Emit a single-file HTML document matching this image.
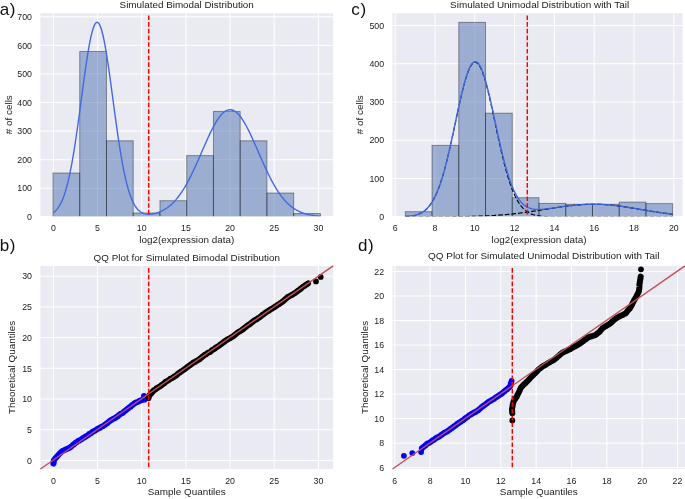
<!DOCTYPE html>
<html><head><meta charset="utf-8"><title>Figure</title>
<style>
html,body{margin:0;padding:0;background:#fff;}
body{width:685px;height:499px;overflow:hidden;}
svg{display:block;will-change:transform;}
text{font-family:"Liberation Sans",sans-serif;fill:#222;}
.tk{font-size:8.8px;}
.lb{font-size:9.9px;}
.pl{font-size:17px;fill:#111;letter-spacing:0.7px;}
</style></head><body>
<svg width="685" height="499" viewBox="0 0 685 499">
<rect width="685" height="499" fill="#fff"/>
<rect x="40.4" y="13.2" width="292.75" height="203.05" fill="#eaeaf2"/>
<clipPath id="ca"><rect x="40.4" y="13.2" width="292.75" height="203.05"/></clipPath>
<path d="M53.4 13.2V216.25M97.56 13.2V216.25M141.73 13.2V216.25M185.9 13.2V216.25M230.06 13.2V216.25M274.23 13.2V216.25M318.39 13.2V216.25M40.4 216.85H333.15M40.4 188.27H333.15M40.4 159.69H333.15M40.4 131.11H333.15M40.4 102.53H333.15M40.4 73.95H333.15M40.4 45.37H333.15M40.4 16.79H333.15" stroke="#fff" stroke-width="1" fill="none"/>
<text x="53.4" y="231.1" class="tk" text-anchor="middle">0</text>
<text x="97.56" y="231.1" class="tk" text-anchor="middle">5</text>
<text x="141.73" y="231.1" class="tk" text-anchor="middle">10</text>
<text x="185.9" y="231.1" class="tk" text-anchor="middle">15</text>
<text x="230.06" y="231.1" class="tk" text-anchor="middle">20</text>
<text x="274.23" y="231.1" class="tk" text-anchor="middle">25</text>
<text x="318.39" y="231.1" class="tk" text-anchor="middle">30</text>
<text x="32" y="220.05" class="tk" text-anchor="end">0</text>
<text x="32" y="191.47" class="tk" text-anchor="end">100</text>
<text x="32" y="162.89" class="tk" text-anchor="end">200</text>
<text x="32" y="134.31" class="tk" text-anchor="end">300</text>
<text x="32" y="105.73" class="tk" text-anchor="end">400</text>
<text x="32" y="77.15" class="tk" text-anchor="end">500</text>
<text x="32" y="48.57" class="tk" text-anchor="end">600</text>
<text x="32" y="19.99" class="tk" text-anchor="end">700</text>
<text x="186.7" y="8" class="lb" style="font-size:9.87px" text-anchor="middle">Simulated Bimodal Distribution</text>
<text x="186.77" y="243.2" class="lb" text-anchor="middle">log2(expression data)</text>
<text transform="translate(11.7 114.72) rotate(-90)" class="lb" text-anchor="middle"># of cells</text>
<g clip-path="url(#ca)" fill="#4c72b0" fill-opacity="0.5" stroke="#000" stroke-opacity="0.38" stroke-width="1">
<rect x="53" y="173.01" width="26.74" height="43.84"/>
<rect x="79.74" y="51.49" width="26.74" height="165.36"/>
<rect x="106.48" y="140.8" width="26.74" height="76.05"/>
<rect x="133.22" y="212.99" width="26.74" height="3.86"/>
<rect x="159.96" y="200.7" width="26.74" height="16.15"/>
<rect x="186.7" y="155.6" width="26.74" height="61.25"/>
<rect x="213.44" y="111.42" width="26.74" height="105.43"/>
<rect x="240.18" y="140.8" width="26.74" height="76.05"/>
<rect x="266.92" y="193.01" width="26.74" height="23.84"/>
<rect x="293.66" y="213.51" width="26.74" height="3.34"/>
</g>
<polyline clip-path="url(#ca)" points="53.4,212.78 54.73,211.71 56.07,210.41 57.41,208.84 58.74,206.96 60.07,204.73 61.41,202.1 62.74,199.02 64.08,195.47 65.41,191.38 66.75,186.73 68.08,181.49 69.42,175.64 70.75,169.16 72.09,162.06 73.42,154.35 74.76,146.07 76.09,137.27 77.43,128.02 78.77,118.41 80.1,108.54 81.44,98.54 82.77,88.55 84.11,78.7 85.44,69.18 86.78,60.12 88.11,51.71 89.44,44.1 90.78,37.43 92.12,31.85 93.45,27.46 94.78,24.36 96.12,22.61 97.45,22.26 98.79,23.31 100.12,25.73 101.46,29.48 102.79,34.48 104.13,40.61 105.47,47.77 106.8,55.79 108.14,64.54 109.47,73.85 110.81,83.55 112.14,93.49 113.47,103.5 114.81,113.45 116.14,123.2 117.48,132.63 118.81,141.66 120.15,150.2 121.48,158.19 122.82,165.58 124.16,172.36 125.49,178.51 126.82,184.03 128.16,188.95 129.5,193.29 130.83,197.07 132.17,200.34 133.5,203.14 134.83,205.52 136.17,207.51 137.5,209.16 138.84,210.5 140.17,211.58 141.51,212.44 142.84,213.09 144.18,213.58 145.52,213.92 146.85,214.13 148.19,214.24 149.52,214.25 150.85,214.17 152.19,214.02 153.53,213.8 154.86,213.51 156.2,213.16 157.53,212.74 158.86,212.27 160.2,211.73 161.53,211.13 162.87,210.46 164.21,209.73 165.54,208.92 166.88,208.03 168.21,207.06 169.54,206.01 170.88,204.87 172.22,203.65 173.55,202.32 174.89,200.9 176.22,199.38 177.55,197.76 178.89,196.03 180.22,194.2 181.56,192.26 182.9,190.21 184.23,188.06 185.57,185.8 186.9,183.45 188.23,180.99 189.57,178.43 190.91,175.79 192.24,173.06 193.58,170.26 194.91,167.39 196.25,164.45 197.58,161.47 198.91,158.44 200.25,155.39 201.59,152.33 202.92,149.26 204.25,146.2 205.59,143.17 206.93,140.18 208.26,137.25 209.59,134.39 210.93,131.61 212.27,128.94 213.6,126.39 214.94,123.97 216.27,121.7 217.61,119.59 218.94,117.66 220.28,115.91 221.61,114.36 222.95,113.02 224.28,111.89 225.62,110.99 226.95,110.32 228.28,109.89 229.62,109.69 230.96,109.73 232.29,110.01 233.63,110.52 234.96,111.27 236.3,112.25 237.63,113.45 238.97,114.86 240.3,116.48 241.63,118.3 242.97,120.29 244.31,122.46 245.64,124.78 246.97,127.25 248.31,129.84 249.64,132.55 250.98,135.35 252.31,138.24 253.65,141.19 254.99,144.2 256.32,147.24 257.66,150.3 258.99,153.37 260.32,156.44 261.66,159.48 263,162.49 264.33,165.46 265.67,168.37 267,171.22 268.33,174 269.67,176.7 271,179.32 272.34,181.84 273.68,184.26 275.01,186.59 276.35,188.81 277.68,190.92 279.01,192.93 280.35,194.84 281.69,196.63 283.02,198.32 284.35,199.91 285.69,201.4 287.02,202.79 288.36,204.08 289.69,205.28 291.03,206.38 292.37,207.41 293.7,208.35 295.04,209.22 296.37,210.01 297.7,210.73 299.04,211.39 300.38,211.99 301.71,212.54 303.05,213.03 304.38,213.47 305.71,213.87 307.05,214.23 308.38,214.54 309.72,214.83 311.06,215.08 312.39,215.31 313.72,215.51 315.06,215.68 316.39,215.84 317.73,215.98 319.06,216.1 320.4,216.2" fill="none" stroke="#4169e1" stroke-width="1.4" stroke-linejoin="round"/>
<path d="M148.7 13.2V216.25" stroke="#f00" stroke-width="1.45" stroke-dasharray="4.64 2.065" stroke-dashoffset="4.5" fill="none"/>
<rect x="392.5" y="13.2" width="290.1" height="203.05" fill="#eaeaf2"/>
<clipPath id="cc"><rect x="392.5" y="13.2" width="290.1" height="203.05"/></clipPath>
<path d="M395.2 13.2V216.25M435 13.2V216.25M474.8 13.2V216.25M514.6 13.2V216.25M554.4 13.2V216.25M594.2 13.2V216.25M634 13.2V216.25M673.8 13.2V216.25M392.5 216.85H682.6M392.5 178.57H682.6M392.5 140.29H682.6M392.5 102.01H682.6M392.5 63.73H682.6M392.5 25.45H682.6" stroke="#fff" stroke-width="1" fill="none"/>
<text x="395.2" y="231.1" class="tk" text-anchor="middle">6</text>
<text x="435" y="231.1" class="tk" text-anchor="middle">8</text>
<text x="474.8" y="231.1" class="tk" text-anchor="middle">10</text>
<text x="514.6" y="231.1" class="tk" text-anchor="middle">12</text>
<text x="554.4" y="231.1" class="tk" text-anchor="middle">14</text>
<text x="594.2" y="231.1" class="tk" text-anchor="middle">16</text>
<text x="634" y="231.1" class="tk" text-anchor="middle">18</text>
<text x="673.8" y="231.1" class="tk" text-anchor="middle">20</text>
<text x="384.1" y="220.05" class="tk" text-anchor="end">0</text>
<text x="384.1" y="181.77" class="tk" text-anchor="end">100</text>
<text x="384.1" y="143.49" class="tk" text-anchor="end">200</text>
<text x="384.1" y="105.21" class="tk" text-anchor="end">300</text>
<text x="384.1" y="66.93" class="tk" text-anchor="end">400</text>
<text x="384.1" y="28.65" class="tk" text-anchor="end">500</text>
<text x="539.6" y="8" class="lb" style="font-size:9.94px" text-anchor="middle">Simulated Unimodal Distribution with Tail</text>
<text x="539.1" y="243.2" class="lb" text-anchor="middle">log2(expression data)</text>
<text transform="translate(363 114.72) rotate(-90)" class="lb" text-anchor="middle"># of cells</text>
<g clip-path="url(#cc)" fill="#4c72b0" fill-opacity="0.5" stroke="#000" stroke-opacity="0.38" stroke-width="1">
<rect x="405.3" y="211.68" width="26.74" height="5.17"/>
<rect x="432.04" y="145.38" width="26.74" height="71.47"/>
<rect x="458.78" y="22.39" width="26.74" height="194.46"/>
<rect x="485.52" y="113.19" width="26.74" height="103.66"/>
<rect x="512.26" y="197.71" width="26.74" height="19.14"/>
<rect x="539" y="203.41" width="26.74" height="13.44"/>
<rect x="565.74" y="204.29" width="26.74" height="12.56"/>
<rect x="592.48" y="204.29" width="26.74" height="12.56"/>
<rect x="619.22" y="202.11" width="26.74" height="14.74"/>
<rect x="645.96" y="203.61" width="26.74" height="13.24"/>
</g>
<polyline clip-path="url(#cc)" points="405.3,216.53 406.64,216.44 407.97,216.34 409.31,216.21 410.65,216.05 411.99,215.85 413.32,215.62 414.66,215.34 416,215 417.33,214.59 418.67,214.11 420.01,213.55 421.34,212.88 422.68,212.1 424.02,211.19 425.36,210.13 426.69,208.92 428.03,207.53 429.37,205.95 430.7,204.15 432.04,202.13 433.38,199.86 434.71,197.32 436.05,194.51 437.39,191.41 438.73,188.02 440.06,184.31 441.4,180.29 442.74,175.97 444.07,171.34 445.41,166.41 446.75,161.2 448.08,155.72 449.42,150.01 450.76,144.1 452.1,138.02 453.43,131.82 454.77,125.54 456.11,119.24 457.44,112.98 458.78,106.81 460.12,100.8 461.45,95.01 462.79,89.52 464.13,84.37 465.47,79.63 466.8,75.37 468.14,71.63 469.48,68.46 470.81,65.91 472.15,64 473.49,62.77 474.82,62.23 476.16,62.38 477.5,63.23 478.84,64.76 480.17,66.96 481.51,69.78 482.85,73.21 484.18,77.19 485.52,81.66 486.86,86.59 488.19,91.9 489.53,97.53 490.87,103.42 492.21,109.51 493.54,115.73 494.88,122.02 496.22,128.31 497.55,134.56 498.89,140.72 500.23,146.73 501.56,152.56 502.9,158.16 504.24,163.53 505.58,168.61 506.91,173.41 508.25,177.91 509.59,182.1 510.92,185.98 512.26,189.55 513.6,192.82 514.93,195.79 516.27,198.47 517.61,200.89 518.95,203.05 520.28,204.97 521.62,206.67 522.96,208.17 524.29,209.48 525.63,210.62 526.97,211.6 528.3,212.46 529.64,213.19 530.98,213.81 532.32,214.34 533.65,214.78 534.99,215.16 536.33,215.47 537.66,215.73 539,215.94 540.34,216.12 541.67,216.27 543.01,216.38 544.35,216.48 545.68,216.56 547.02,216.62 548.36,216.67 549.7,216.71 551.03,216.74 552.37,216.77 553.71,216.79 555.04,216.8 556.38,216.81 557.72,216.82 559.06,216.83 560.39,216.83 561.73,216.84 563.07,216.84 564.4,216.84 565.74,216.85 567.08,216.85 568.41,216.85 569.75,216.85 571.09,216.85 572.43,216.85 573.76,216.85 575.1,216.85 576.44,216.85 577.77,216.85 579.11,216.85 580.45,216.85 581.78,216.85 583.12,216.85 584.46,216.85 585.8,216.85 587.13,216.85 588.47,216.85 589.81,216.85 591.14,216.85 592.48,216.85 593.82,216.85 595.15,216.85 596.49,216.85 597.83,216.85 599.17,216.85 600.5,216.85 601.84,216.85 603.18,216.85 604.51,216.85 605.85,216.85 607.19,216.85 608.52,216.85 609.86,216.85 611.2,216.85 612.53,216.85 613.87,216.85 615.21,216.85 616.55,216.85 617.88,216.85 619.22,216.85 620.56,216.85 621.89,216.85 623.23,216.85 624.57,216.85 625.91,216.85 627.24,216.85 628.58,216.85 629.92,216.85 631.25,216.85 632.59,216.85 633.93,216.85 635.26,216.85 636.6,216.85 637.94,216.85 639.28,216.85 640.61,216.85 641.95,216.85 643.29,216.85 644.62,216.85 645.96,216.85 647.3,216.85 648.63,216.85 649.97,216.85 651.31,216.85 652.64,216.85 653.98,216.85 655.32,216.85 656.66,216.85 657.99,216.85 659.33,216.85 660.67,216.85 662,216.85 663.34,216.85 664.68,216.85 666.02,216.85 667.35,216.85 668.69,216.85 670.03,216.85 671.36,216.85 672.7,216.85" fill="none" stroke="#000" stroke-width="1.15" stroke-dasharray="4.6 2.04"/>
<polyline clip-path="url(#cc)" points="405.3,216.84 406.64,216.84 407.97,216.84 409.31,216.84 410.65,216.84 411.99,216.84 413.32,216.84 414.66,216.84 416,216.84 417.33,216.84 418.67,216.84 420.01,216.83 421.34,216.83 422.68,216.83 424.02,216.83 425.36,216.83 426.69,216.82 428.03,216.82 429.37,216.82 430.7,216.81 432.04,216.81 433.38,216.81 434.71,216.8 436.05,216.8 437.39,216.79 438.73,216.79 440.06,216.78 441.4,216.77 442.74,216.77 444.07,216.76 445.41,216.75 446.75,216.74 448.08,216.73 449.42,216.72 450.76,216.71 452.1,216.7 453.43,216.69 454.77,216.67 456.11,216.66 457.44,216.64 458.78,216.62 460.12,216.6 461.45,216.58 462.79,216.56 464.13,216.54 465.47,216.52 466.8,216.49 468.14,216.46 469.48,216.43 470.81,216.4 472.15,216.37 473.49,216.33 474.82,216.29 476.16,216.25 477.5,216.21 478.84,216.17 480.17,216.12 481.51,216.07 482.85,216.02 484.18,215.96 485.52,215.9 486.86,215.84 488.19,215.77 489.53,215.71 490.87,215.63 492.21,215.56 493.54,215.48 494.88,215.4 496.22,215.31 497.55,215.22 498.89,215.13 500.23,215.03 501.56,214.92 502.9,214.82 504.24,214.71 505.58,214.59 506.91,214.47 508.25,214.35 509.59,214.22 510.92,214.09 512.26,213.95 513.6,213.81 514.93,213.66 516.27,213.51 517.61,213.36 518.95,213.2 520.28,213.04 521.62,212.87 522.96,212.7 524.29,212.52 525.63,212.34 526.97,212.16 528.3,211.97 529.64,211.78 530.98,211.59 532.32,211.39 533.65,211.19 534.99,210.99 536.33,210.79 537.66,210.58 539,210.37 540.34,210.16 541.67,209.95 543.01,209.74 544.35,209.52 545.68,209.31 547.02,209.09 548.36,208.88 549.7,208.67 551.03,208.45 552.37,208.24 553.71,208.03 555.04,207.82 556.38,207.62 557.72,207.41 559.06,207.21 560.39,207.02 561.73,206.82 563.07,206.64 564.4,206.45 565.74,206.27 567.08,206.1 568.41,205.93 569.75,205.77 571.09,205.61 572.43,205.46 573.76,205.32 575.1,205.19 576.44,205.06 577.77,204.94 579.11,204.83 580.45,204.73 581.78,204.64 583.12,204.55 584.46,204.48 585.8,204.41 587.13,204.36 588.47,204.31 589.81,204.27 591.14,204.24 592.48,204.23 593.82,204.22 595.15,204.22 596.49,204.23 597.83,204.26 599.17,204.3 600.5,204.34 601.84,204.4 603.18,204.47 604.51,204.55 605.85,204.64 607.19,204.74 608.52,204.85 609.86,204.97 611.2,205.1 612.53,205.24 613.87,205.39 615.21,205.55 616.55,205.71 617.88,205.88 619.22,206.06 620.56,206.24 621.89,206.43 623.23,206.63 624.57,206.83 625.91,207.04 627.24,207.25 628.58,207.47 629.92,207.69 631.25,207.91 632.59,208.13 633.93,208.36 635.26,208.59 636.6,208.81 637.94,209.04 639.28,209.27 640.61,209.5 641.95,209.73 643.29,209.96 644.62,210.19 645.96,210.41 647.3,210.64 648.63,210.86 649.97,211.07 651.31,211.29 652.64,211.5 653.98,211.71 655.32,211.92 656.66,212.12 657.99,212.31 659.33,212.51 660.67,212.69 662,212.88 663.34,213.06 664.68,213.23 666.02,213.4 667.35,213.56 668.69,213.72 670.03,213.88 671.36,214.03 672.7,214.17" fill="none" stroke="#000" stroke-width="1.15" stroke-dasharray="4.6 2.04"/>
<polyline clip-path="url(#cc)" points="405.3,216.52 406.64,216.44 407.97,216.33 409.31,216.2 410.65,216.04 411.99,215.85 413.32,215.61 414.66,215.33 416,214.99 417.33,214.58 418.67,214.1 420.01,213.53 421.34,212.86 422.68,212.08 424.02,211.16 425.36,210.11 426.69,208.89 428.03,207.5 429.37,205.91 430.7,204.12 432.04,202.09 433.38,199.81 434.71,197.27 436.05,194.46 437.39,191.36 438.73,187.95 440.06,184.24 441.4,180.22 442.74,175.89 444.07,171.25 445.41,166.31 446.75,161.09 448.08,155.61 449.42,149.89 450.76,143.96 452.1,137.87 453.43,131.66 454.77,125.36 456.11,119.05 457.44,112.77 458.78,106.58 460.12,100.56 461.45,94.75 462.79,89.23 464.13,84.06 465.47,79.3 466.8,75.01 468.14,71.24 469.48,68.04 470.81,65.46 472.15,63.52 473.49,62.25 474.82,61.67 476.16,61.78 477.5,62.59 478.84,64.08 480.17,66.22 481.51,69 482.85,72.37 484.18,76.3 485.52,80.72 486.86,85.58 488.19,90.82 489.53,96.39 490.87,102.21 492.21,108.22 493.54,114.36 494.88,120.56 496.22,126.77 497.55,132.93 498.89,138.99 500.23,144.91 501.56,150.63 502.9,156.13 504.24,161.38 505.58,166.36 506.91,171.04 508.25,175.41 509.59,179.47 510.92,183.22 512.26,186.65 513.6,189.77 514.93,192.6 516.27,195.13 517.61,197.4 518.95,199.4 520.28,201.16 521.62,202.69 522.96,204.01 524.29,205.15 525.63,206.11 526.97,206.91 528.3,207.58 529.64,208.12 530.98,208.55 532.32,208.88 533.65,209.13 534.99,209.3 536.33,209.41 537.66,209.46 539,209.47 540.34,209.43 541.67,209.37 543.01,209.27 544.35,209.15 545.68,209.02 547.02,208.87 548.36,208.7 549.7,208.53 551.03,208.34 552.37,208.16 553.71,207.97 555.04,207.77 556.38,207.58 557.72,207.39 559.06,207.19 560.39,207 561.73,206.81 563.07,206.63 564.4,206.44 565.74,206.27 567.08,206.1 568.41,205.93 569.75,205.77 571.09,205.61 572.43,205.46 573.76,205.32 575.1,205.19 576.44,205.06 577.77,204.94 579.11,204.83 580.45,204.73 581.78,204.64 583.12,204.55 584.46,204.48 585.8,204.41 587.13,204.36 588.47,204.31 589.81,204.27 591.14,204.24 592.48,204.23 593.82,204.22 595.15,204.22 596.49,204.23 597.83,204.26 599.17,204.3 600.5,204.34 601.84,204.4 603.18,204.47 604.51,204.55 605.85,204.64 607.19,204.74 608.52,204.85 609.86,204.97 611.2,205.1 612.53,205.24 613.87,205.39 615.21,205.55 616.55,205.71 617.88,205.88 619.22,206.06 620.56,206.24 621.89,206.43 623.23,206.63 624.57,206.83 625.91,207.04 627.24,207.25 628.58,207.47 629.92,207.69 631.25,207.91 632.59,208.13 633.93,208.36 635.26,208.59 636.6,208.81 637.94,209.04 639.28,209.27 640.61,209.5 641.95,209.73 643.29,209.96 644.62,210.19 645.96,210.41 647.3,210.64 648.63,210.86 649.97,211.07 651.31,211.29 652.64,211.5 653.98,211.71 655.32,211.92 656.66,212.12 657.99,212.31 659.33,212.51 660.67,212.69 662,212.88 663.34,213.06 664.68,213.23 666.02,213.4 667.35,213.56 668.69,213.72 670.03,213.88 671.36,214.03 672.7,214.17" fill="none" stroke="#4169e1" stroke-width="1.4" stroke-linejoin="round"/>
<polyline clip-path="url(#cc)" points="405.3,216.84 406.64,216.84 407.97,216.84 409.31,216.84 410.65,216.84 411.99,216.84 413.32,216.84 414.66,216.84 416,216.84 417.33,216.84 418.67,216.84 420.01,216.83 421.34,216.83 422.68,216.83 424.02,216.83 425.36,216.83 426.69,216.82 428.03,216.82 429.37,216.82 430.7,216.81 432.04,216.81 433.38,216.81 434.71,216.8 436.05,216.8 437.39,216.79 438.73,216.79 440.06,216.78 441.4,216.77 442.74,216.77 444.07,216.76 445.41,216.75 446.75,216.74 448.08,216.73 449.42,216.72 450.76,216.71 452.1,216.7 453.43,216.69 454.77,216.67 456.11,216.66 457.44,216.64 458.78,216.62 460.12,216.6 461.45,216.58 462.79,216.56 464.13,216.54 465.47,216.52 466.8,216.49 468.14,216.46 469.48,216.43 470.81,216.4 472.15,216.37 473.49,216.33 474.82,216.29 476.16,216.25 477.5,216.21 478.84,216.17 480.17,216.12 481.51,216.07 482.85,216.02 484.18,215.96 485.52,215.9 486.86,215.84 488.19,215.77 489.53,215.71 490.87,215.63 492.21,215.56 493.54,215.48 494.88,215.4 496.22,215.31 497.55,215.22 498.89,215.13 500.23,215.03 501.56,214.92 502.9,214.82 504.24,214.71 505.58,214.59 506.91,214.47 508.25,214.35 509.59,214.22 510.92,214.09 512.26,213.95 513.6,213.81 514.93,213.66 516.27,213.51 517.61,213.36 518.95,213.2 520.28,213.04 521.62,212.87 522.96,212.7 524.29,212.52 525.63,212.34 526.97,212.16 528.3,211.97 529.64,211.78 530.98,211.59 532.32,211.39 533.65,211.19 534.99,210.99 536.33,210.79 537.66,210.58 539,210.37 540.34,210.16 541.67,209.95 543.01,209.74 544.35,209.52 545.68,209.31 547.02,209.09 548.36,208.88 549.7,208.67 551.03,208.45 552.37,208.24 553.71,208.03 555.04,207.82 556.38,207.62 557.72,207.41 559.06,207.21 560.39,207.02 561.73,206.82 563.07,206.64 564.4,206.45 565.74,206.27 567.08,206.1 568.41,205.93 569.75,205.77 571.09,205.61 572.43,205.46 573.76,205.32 575.1,205.19 576.44,205.06 577.77,204.94 579.11,204.83 580.45,204.73 581.78,204.64 583.12,204.55 584.46,204.48 585.8,204.41 587.13,204.36 588.47,204.31 589.81,204.27 591.14,204.24 592.48,204.23 593.82,204.22 595.15,204.22 596.49,204.23 597.83,204.26 599.17,204.3 600.5,204.34 601.84,204.4 603.18,204.47 604.51,204.55 605.85,204.64 607.19,204.74 608.52,204.85 609.86,204.97 611.2,205.1 612.53,205.24 613.87,205.39 615.21,205.55 616.55,205.71 617.88,205.88 619.22,206.06 620.56,206.24 621.89,206.43 623.23,206.63 624.57,206.83 625.91,207.04 627.24,207.25 628.58,207.47 629.92,207.69 631.25,207.91 632.59,208.13 633.93,208.36 635.26,208.59 636.6,208.81 637.94,209.04 639.28,209.27 640.61,209.5 641.95,209.73 643.29,209.96 644.62,210.19 645.96,210.41 647.3,210.64 648.63,210.86 649.97,211.07 651.31,211.29 652.64,211.5 653.98,211.71 655.32,211.92 656.66,212.12 657.99,212.31 659.33,212.51 660.67,212.69 662,212.88 663.34,213.06 664.68,213.23 666.02,213.4 667.35,213.56 668.69,213.72 670.03,213.88 671.36,214.03 672.7,214.17" fill="none" stroke="#000" stroke-opacity="0.13" stroke-width="1.2" stroke-dasharray="4.6 2.04"/>
<path d="M527.3 13.2V216.25" stroke="#f00" stroke-width="1.45" stroke-dasharray="4.64 2.065" stroke-dashoffset="4.5" fill="none"/>
<rect x="40.4" y="265.9" width="292.75" height="203.1" fill="#eaeaf2"/>
<clipPath id="cb"><rect x="40.4" y="265.9" width="292.75" height="203.1"/></clipPath>
<path d="M53.4 265.9V469M97.56 265.9V469M141.73 265.9V469M185.9 265.9V469M230.06 265.9V469M274.23 265.9V469M318.39 265.9V469M40.4 460.4H333.15M40.4 429.7H333.15M40.4 399H333.15M40.4 368.3H333.15M40.4 337.6H333.15M40.4 306.9H333.15M40.4 276.2H333.15" stroke="#fff" stroke-width="1" fill="none"/>
<text x="53.4" y="484.4" class="tk" text-anchor="middle">0</text>
<text x="97.56" y="484.4" class="tk" text-anchor="middle">5</text>
<text x="141.73" y="484.4" class="tk" text-anchor="middle">10</text>
<text x="185.9" y="484.4" class="tk" text-anchor="middle">15</text>
<text x="230.06" y="484.4" class="tk" text-anchor="middle">20</text>
<text x="274.23" y="484.4" class="tk" text-anchor="middle">25</text>
<text x="318.39" y="484.4" class="tk" text-anchor="middle">30</text>
<text x="32" y="463.6" class="tk" text-anchor="end">0</text>
<text x="32" y="432.9" class="tk" text-anchor="end">5</text>
<text x="32" y="402.2" class="tk" text-anchor="end">10</text>
<text x="32" y="371.5" class="tk" text-anchor="end">15</text>
<text x="32" y="340.8" class="tk" text-anchor="end">20</text>
<text x="32" y="310.1" class="tk" text-anchor="end">25</text>
<text x="32" y="279.4" class="tk" text-anchor="end">30</text>
<text x="186.75" y="260.8" class="lb" style="font-size:9.87px" text-anchor="middle">QQ Plot for Simulated Bimodal Distribution</text>
<text x="186.77" y="495.1" class="lb" text-anchor="middle">Sample Quantiles</text>
<text transform="translate(15.3 367.45) rotate(-90)" class="lb" text-anchor="middle">Theoretical Quantiles</text>
<g clip-path="url(#cb)"><polyline points="53.4,463.53 53.7,462.78 53.76,461.96 53.77,461.14 53.89,460.25 54.42,459.64 54.9,459 55.31,458.31 55.89,457.73 56.44,457.15 56.92,456.5 57.56,455.99 58.04,455.35 58.53,454.72 59.04,454.14 59.6,453.53 60.3,453.13 60.84,452.5 61.35,451.81 61.99,451.32 62.63,450.84 63.43,450.58 64.19,450.29 64.89,449.89 65.64,449.58 66.4,449.28 67.11,448.9 67.82,448.52 68.58,448.2 69.33,447.88 69.99,447.42 70.68,447 71.27,446.46 71.88,445.93 72.47,445.37 73.05,444.8 73.8,444.46 74.33,443.84 74.95,443.33 75.51,442.74 76.21,442.33 76.95,441.99 77.56,441.46 78.19,440.97 78.98,440.74 79.63,440.26 80.42,440.03 81.05,439.51 81.69,439.02 82.34,438.54 83.03,438.12 83.77,437.8 84.44,437.37 85.05,436.81 85.82,436.55 86.49,436.1 87.14,435.62 87.86,435.27 88.48,434.73 89.03,434.13 89.79,433.84 90.49,433.43 91.2,433.06 91.79,432.49 92.37,431.91 93.15,431.64 93.8,431.18 94.57,430.9 95.26,430.48 95.87,429.95 96.55,429.53 97.18,429.02 97.95,428.73 98.73,428.46 99.33,427.92 100.14,427.7 100.74,427.15 101.47,426.8 102.22,426.49 102.97,426.18 103.63,425.71 104.31,425.29 104.89,424.7 105.56,424.27 106.22,423.81 106.92,423.41 107.58,422.96 108.13,422.33 108.71,421.75 109.45,421.45 109.97,420.79 110.69,420.43 111.37,419.99 111.97,419.45 112.74,419.15 113.42,418.74 114.17,418.4 114.97,418.14 115.55,417.58 116.19,417.09 116.9,416.71 117.64,416.36 118.25,415.85 118.77,415.18 119.47,414.79 120.19,414.42 120.72,413.78 121.51,413.5 122.3,413.22 122.89,412.67 123.46,412.1 124.08,411.59 124.7,411.08 125.4,410.67 125.91,410.01 126.66,409.67 127.18,409.03 127.81,408.54 128.46,408.07 129.09,407.56 129.75,407.11 130.53,406.81 130.98,406.09 131.61,405.6 132.21,405.06 132.96,404.72 133.55,404.17 134.12,403.6 134.87,403.26 135.52,402.78 136.2,402.3 136.98,402.1 137.76,401.9 138.47,401.49 139.15,401.03 139.89,400.69 140.67,400.51 141.34,400.01 142.11,399.79 142.96,399.78 143.79,399.72 144.57,399.51" fill="none" stroke="#00f" stroke-width="6.0" stroke-linecap="round" stroke-linejoin="round"/><circle cx="143.9" cy="396" r="2.9" fill="#00f"/></g>
<g clip-path="url(#cb)"><polyline points="148.5,398.18 148.71,397.4 148.86,396.61 149.04,395.83 149.49,395.13 150.11,394.61 150.6,393.98 151.27,393.5 151.65,392.76 152.23,392.21 152.7,391.54 153.29,390.99 153.79,390.36 154.52,389.93 155.24,389.56 155.87,389.07 156.4,388.43 157.19,388.16 157.8,387.63 158.47,387.18 159.17,386.79 159.92,386.47 160.54,385.94 161.13,385.39 161.81,384.96 162.51,384.56 163.12,384.04 163.73,383.51 164.48,383.18 164.99,382.52 165.53,381.89 166.3,381.59 166.96,381.13 167.66,380.73 168.36,380.34 169,379.85 169.69,379.44 170.25,378.83 171.01,378.53 171.79,378.25 172.47,377.82 173.17,377.42 173.82,376.95 174.45,376.44 175.14,376.03 175.84,375.64 176.51,375.2 177.1,374.64 177.66,374.05 178.25,373.49 178.93,373.06 179.61,372.64 180.22,372.1 180.9,371.68 181.52,371.17 182.24,370.8 182.9,370.34 183.57,369.9 184.21,369.41 184.86,368.95 185.46,368.4 186.2,368.06 186.76,367.46 187.46,367.06 188.04,366.5 188.71,366.05 189.36,365.58 190.05,365.17 190.6,364.56 191.32,364.18 191.92,363.65 192.6,363.21 193.22,362.71 194.02,362.45 194.71,362.04 195.47,361.72 196.05,361.16 196.85,360.89 197.49,360.42 198.15,359.95 198.88,359.6 199.6,359.24 200.11,358.57 200.74,358.07 201.37,357.57 202.06,357.15 202.61,356.54 203.22,356.01 203.85,355.52 204.49,355.03 205.16,354.59 205.97,354.35 206.67,353.95 207.21,353.32 207.87,352.86 208.61,352.53 209.4,352.25 210.15,351.93 210.75,351.38 211.33,350.82 211.91,350.25 212.59,349.82 213.29,349.42 214.04,349.1 214.72,348.67 215.27,348.06 215.88,347.53 216.64,347.21 217.26,346.7 217.99,346.34 218.63,345.86 219.36,345.5 219.98,344.99 220.53,344.38 221.21,343.95 221.86,343.49 222.49,342.99 223.22,342.62 223.75,341.99 224.47,341.61 225.08,341.09 225.67,340.53 226.36,340.13 227.13,339.82 227.83,339.43 228.48,338.96 229.18,338.55 229.96,338.28 230.6,337.8 231.26,337.34 231.97,336.96 232.7,336.6 233.33,336.1 234,335.65 234.61,335.13 235.19,334.55 235.81,334.05 236.44,333.55 237.04,333 237.72,332.57 238.38,332.11 239.04,331.66 239.74,331.27 240.49,330.94 241.17,330.52 241.84,330.07 242.47,329.57 243.14,329.14 243.75,328.6 244.31,328.01 244.99,327.58 245.62,327.08 246.22,326.54 246.9,326.1 247.45,325.5 248.14,325.08 248.89,324.75 249.55,324.31 250.2,323.83 250.78,323.26 251.38,322.72 252.06,322.3 252.65,321.73 253.3,321.27 253.93,320.76 254.59,320.3 255.3,319.93 256.02,319.56 256.76,319.22 257.43,318.77 257.99,318.17 258.7,317.79 259.41,317.41 260.05,316.92 260.7,316.46 261.3,315.91 261.89,315.36 262.46,314.77 263.21,314.44 263.86,313.98 264.5,313.49 265.14,313 265.8,312.55 266.42,312.04 267.06,311.55 267.83,311.25 268.51,310.83 269.13,310.32 269.81,309.89 270.49,309.46 271.2,309.08 271.96,308.76 272.59,308.26 273.28,307.86 273.93,307.39 274.64,307 275.23,306.44 275.94,306.07 276.65,305.68 277.28,305.17 277.91,304.68 278.63,304.31 279.37,303.97 279.98,303.44 280.62,302.95 281.3,302.52 281.98,302.11 282.58,301.55 283.25,301.12 283.86,300.59 284.47,300.06 285,299.42 285.61,298.89 286.24,298.4 286.89,297.92 287.44,297.31 288.17,296.96 288.8,296.46 289.55,296.13 290.25,295.73 290.95,295.33 291.71,295.02 292.42,294.64 293.09,294.2 293.76,293.76 294.39,293.26 295.14,292.93 295.75,292.4 296.43,291.98 297.1,291.53 297.72,291.02 298.28,290.42 298.95,289.98 299.65,289.58 300.27,289.07 300.86,288.51 301.55,288.1 302.11,287.51 302.74,287 303.34,286.47 304.1,286.16 304.75,285.7 305.34,285.14 306.05,284.75 306.76,284.36 307.4,283.87 308.06,283.42" fill="none" stroke="#000" stroke-width="6.0" stroke-linecap="round" stroke-linejoin="round"/><circle cx="316" cy="281.4" r="2.9" fill="#000"/><circle cx="320.7" cy="276.9" r="2.9" fill="#000"/></g>
<path d="M40.4 469L333.15 265.9" stroke="#c44e52" stroke-width="1.35" fill="none"/>
<path d="M148.7 265.9V469" stroke="#f00" stroke-width="1.45" stroke-dasharray="4.64 2.065" stroke-dashoffset="4.5" fill="none"/>
<rect x="392.5" y="265.9" width="292.5" height="203.1" fill="#eaeaf2"/>
<clipPath id="cd"><rect x="392.5" y="265.9" width="292.5" height="203.1"/></clipPath>
<path d="M394.8 265.9V469M430.14 265.9V469M465.48 265.9V469M500.82 265.9V469M536.16 265.9V469M571.5 265.9V469M606.84 265.9V469M642.18 265.9V469M677.52 265.9V469M392.5 467.7H685M392.5 443.17H685M392.5 418.64H685M392.5 394.1H685M392.5 369.57H685M392.5 345.04H685M392.5 320.51H685M392.5 295.98H685M392.5 271.44H685" stroke="#fff" stroke-width="1" fill="none"/>
<text x="394.8" y="484.4" class="tk" text-anchor="middle">6</text>
<text x="430.14" y="484.4" class="tk" text-anchor="middle">8</text>
<text x="465.48" y="484.4" class="tk" text-anchor="middle">10</text>
<text x="500.82" y="484.4" class="tk" text-anchor="middle">12</text>
<text x="536.16" y="484.4" class="tk" text-anchor="middle">14</text>
<text x="571.5" y="484.4" class="tk" text-anchor="middle">16</text>
<text x="606.84" y="484.4" class="tk" text-anchor="middle">18</text>
<text x="642.18" y="484.4" class="tk" text-anchor="middle">20</text>
<text x="677.52" y="484.4" class="tk" text-anchor="middle">22</text>
<text x="384.1" y="470.9" class="tk" text-anchor="end">6</text>
<text x="384.1" y="446.37" class="tk" text-anchor="end">8</text>
<text x="384.1" y="421.84" class="tk" text-anchor="end">10</text>
<text x="384.1" y="397.3" class="tk" text-anchor="end">12</text>
<text x="384.1" y="372.77" class="tk" text-anchor="end">14</text>
<text x="384.1" y="348.24" class="tk" text-anchor="end">16</text>
<text x="384.1" y="323.71" class="tk" text-anchor="end">18</text>
<text x="384.1" y="299.18" class="tk" text-anchor="end">20</text>
<text x="384.1" y="274.64" class="tk" text-anchor="end">22</text>
<text x="543.8" y="258.7" class="lb" style="font-size:9.94px" text-anchor="middle">QQ Plot for Simulated Unimodal Distribution with Tail</text>
<text x="538.8" y="495.1" class="lb" text-anchor="middle">Sample Quantiles</text>
<text transform="translate(368.4 367.45) rotate(-90)" class="lb" text-anchor="middle">Theoretical Quantiles</text>
<g clip-path="url(#cd)"><polyline points="421.94,448.26 422.6,447.8 423.14,447.19 423.75,446.66 424.41,446.21 425.04,445.71 425.68,445.23 426.24,444.64 426.85,444.11 427.44,443.55 428.2,443.24 428.96,442.93 429.68,442.57 430.34,442.11 430.99,441.64 431.58,441.08 432.27,440.68 432.91,440.19 433.71,439.96 434.32,439.42 434.93,438.89 435.61,438.46 436.24,437.95 437.04,437.73 437.74,437.34 438.43,436.94 439.15,436.58 439.78,436.07 440.41,435.59 441.06,435.11 441.72,434.67 442.39,434.23 443.03,433.74 443.65,433.24 444.37,432.87 445.1,432.52 445.8,432.12 446.54,431.78 447.27,431.43 447.91,430.94 448.55,430.46 449.17,429.95 449.91,429.61 450.46,429 451.12,428.55 451.8,428.12 452.41,427.6 453.04,427.1 453.66,426.58 454.35,426.18 455.08,425.83 455.68,425.28 456.31,424.79 456.85,424.17 457.49,423.68 458.22,423.34 458.9,422.91 459.56,422.46 460.24,422.03 460.87,421.53 461.5,421.04 462.24,420.7 462.96,420.33 463.61,419.86 464.15,419.24 464.76,418.72 465.4,418.23 466.11,417.85 466.71,417.31 467.42,416.93 468.04,416.41 468.63,415.87 469.21,415.3 469.96,414.97 470.7,414.63 471.36,414.18 471.99,413.68 472.69,413.28 473.39,412.89 474.14,412.56 474.84,412.17 475.63,411.9 476.3,411.47 476.94,410.97 477.67,410.62 478.3,410.12 478.91,409.61 479.48,409.02 480.12,408.55 480.75,408.04 481.28,407.4 481.91,406.91 482.6,406.49 483.2,405.95 483.91,405.57 484.52,405.05 485.18,404.59 485.75,404.02 486.45,403.61 487.12,403.17 487.67,402.57 488.27,402.03 488.99,401.65 489.66,401.23 490.42,400.91 491.11,400.5 491.76,400.03 492.49,399.68 493.2,399.3 493.95,398.97 494.56,398.46 495.14,397.88 495.78,397.4 496.45,396.96 497.17,396.6 497.88,396.22 498.48,395.67 499.15,395.23 499.83,394.81 500.53,394.42 501.24,394.04 501.83,393.48 502.49,393.03 503.03,392.4 503.68,391.94 504.38,391.52 504.9,390.9 505.47,390.33 506.13,389.88 506.79,389.42 507.45,388.96 507.98,388.35 508.6,387.81 509.18,387.26 509.7,386.65 510.25,386.07 510.59,385.3 510.73,384.5 510.8,383.67 511.03,382.91" fill="none" stroke="#00f" stroke-width="6.0" stroke-linecap="round" stroke-linejoin="round"/><circle cx="403.9" cy="455.8" r="2.9" fill="#00f"/><circle cx="412.3" cy="453.1" r="2.9" fill="#00f"/><circle cx="421.1" cy="452" r="2.9" fill="#00f"/><circle cx="511.6" cy="381" r="2.9" fill="#00f"/></g>
<g clip-path="url(#cd)"><polyline points="512.32,413.2 512.12,412.42 512.18,411.61 512.15,410.8 512.01,410.01 512.06,409.2 512.1,408.45 512.29,407.66 512.48,406.88 512.48,406.07 512.73,405.3 512.8,404.5 512.97,403.75 513.16,402.97 513.41,402.2 513.65,401.44 513.91,400.68 514.29,400.01 514.86,399.43 515.26,398.73 515.71,398.07 516.2,397.43 516.63,396.72 517.01,396.01 517.34,395.28 517.68,394.55 518.07,393.86 518.39,393.12 518.7,392.37 519.09,391.67 519.46,390.97 519.82,390.25 520.05,389.46 520.45,388.77 520.71,388 521.2,387.35 521.73,386.74 522.32,386.2 522.81,385.56 523.36,384.97 523.99,384.47 524.57,383.91 525.12,383.33 525.76,382.84 526.26,382.2 526.84,381.66 527.42,381.1 528,380.54 528.56,379.96 529.04,379.32 529.55,378.7 530.17,378.18 530.68,377.56 531.23,376.98 531.74,376.36 532.35,375.84 532.99,375.34 533.55,374.77 534.11,374.19 534.68,373.63 535.24,373.06 535.8,372.49 536.4,371.95 536.97,371.39 537.48,370.77 538,370.14 538.54,369.55 539.11,368.94 539.8,368.52 540.43,368.03 541.12,367.61 541.72,367.08 542.4,366.65 543.04,366.14 543.71,365.72 544.45,365.37 545.2,365.06 545.87,364.61 546.54,364.19 547.19,363.71 547.88,363.29 548.53,362.82 549.28,362.5 549.97,362.09 550.59,361.64 551.29,361.25 552.02,360.91 552.69,360.47 553.43,360.15 554.18,359.75 554.81,359.25 555.43,358.74 555.97,358.14 556.6,357.64 557.21,357.13 557.81,356.59 558.42,356.07 559.05,355.57 559.64,355.03 560.24,354.49 560.78,353.88 561.51,353.51 562.13,353 562.82,352.54 563.54,352.18 564.27,351.85 565,351.54 565.71,351.16 566.45,350.83 567.19,350.52 567.89,350.13 568.62,349.79 569.37,349.5 570.06,349.18 570.79,348.83 571.45,348.38 572.1,347.91 572.78,347.48 573.54,347.19 574.22,346.77 574.94,346.42 575.68,346.09 576.37,345.69 577.06,345.29 577.73,344.86 578.46,344.5 579.13,344.07 579.76,343.56 580.45,343.18 581.09,342.69 581.75,342.24 582.38,341.73 583.04,341.28 583.68,340.8 584.27,340.27 584.93,339.81 585.6,339.37 586.21,338.84 586.89,338.41 587.46,337.83 588.25,337.54 588.95,337.12 589.69,336.83 590.5,336.7 591.27,336.47 592,336.13 592.79,335.94 593.52,335.61 594.29,335.39 595.05,335.13 595.8,334.81 596.41,334.27 597.01,333.74 597.66,333.26 598.32,332.8 598.94,332.34 599.55,331.8 600.08,331.21 600.52,330.53 601.03,329.91 601.61,329.35 602.09,328.71 602.59,328.1 603.27,327.68 603.96,327.27 604.61,326.8 605.31,326.4 606.03,326.05 606.73,325.65 607.38,325.18 608.06,324.75 608.78,324.38 609.49,324 610.11,323.48 610.78,323.05 611.38,322.48 611.93,321.89 612.45,321.26 613.09,320.78 613.7,320.26 614.28,319.7 614.95,319.24 615.56,318.73 616.19,318.23 616.9,317.84 617.59,317.42 618.28,317.02 619.02,316.69 619.7,316.28 620.44,315.96 621.13,315.54 621.88,315.26 622.62,314.99 623.31,314.56 624.01,314.17 624.73,313.8 625.45,313.45 626.05,312.95 626.54,312.32 627,311.66 627.47,311.01 627.96,310.37 628.49,309.76 629.1,309.23 629.68,308.61 630.11,307.94 630.51,307.24 630.9,306.54 631.34,305.87 631.69,305.15 632.03,304.41 632.42,303.71 632.69,302.94 633.11,302.27 633.49,301.56 633.82,300.81 634.2,300.1 634.57,299.38 635.03,298.73 635.49,298.07 635.92,297.4 636.37,296.79 636.59,296.02 636.9,295.28 637.33,294.59 637.64,293.85 638.01,293.14 638.38,292.42 638.79,291.72 638.98,290.93 639.01,290.12 639.21,289.34 639.34,288.55 639.34,287.74 639.42,286.94 639.47,286.14 639.48,285.33 639.45,284.52 639.5,283.72 639.77,282.94 639.86,282.15 639.9,281.34 640.04,280.56 640.24,279.78 640.38,278.98 640.43,278.18 640.55,277.39 640.7,276.6" fill="none" stroke="#000" stroke-width="6.0" stroke-linecap="round" stroke-linejoin="round"/><circle cx="512.35" cy="420.45" r="2.9" fill="#000"/><circle cx="640.96" cy="269.3" r="2.9" fill="#000"/></g>
<path d="M392.5 469L685 265.9" stroke="#c44e52" stroke-width="1.35" fill="none"/>
<path d="M512.3 265.9V469" stroke="#f00" stroke-width="1.45" stroke-dasharray="4.64 2.065" stroke-dashoffset="4.5" fill="none"/>
<text x="-0.3" y="15.0" class="pl">a)</text>
<text x="-0.3" y="250.6" class="pl">b)</text>
<text x="351.2" y="15.0" class="pl">c)</text>
<text x="357.9" y="250.6" class="pl">d)</text>
</svg>
</body></html>
